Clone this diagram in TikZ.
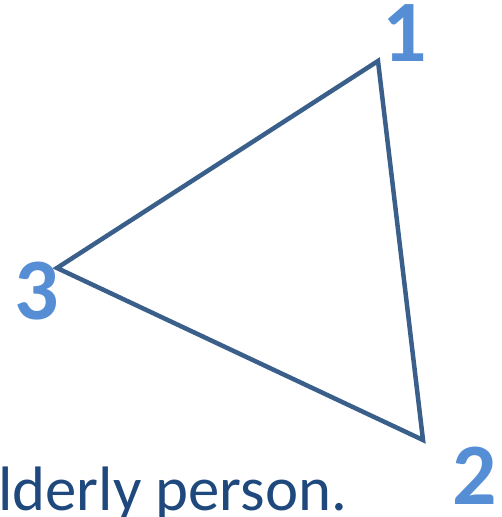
\documentclass[tikz,border=0pt]{standalone}
\usepackage{fontspec}
\setmainfont{Carlito}
\definecolor{edgeblue}{HTML}{3A5F8B}
\definecolor{labelblue}{HTML}{558ED5}
\definecolor{textblue}{HTML}{1F497D}
\begin{document}
\begin{tikzpicture}[x=1bp,y=-1bp,
  vlabel/.style={font=\fontsize{88}{88}\selectfont\bfseries, text=labelblue, inner sep=0pt},
  edge/.style={draw=edgeblue, line width=4.5bp, line join=miter}]
\useasboundingbox (0,0) rectangle (502,517);
\coordinate (v1) at (378,61);
\coordinate (v2) at (423,440);
\coordinate (v3) at (57,268);
\draw[edge] (v1) -- (v2) -- (v3) -- cycle;
\node[vlabel] (l1) at (405,33) {1};
\node[vlabel] (l2) at (475,476) {2};
\node[vlabel] (l3) at (37,291) {3};
\node[font=\fontsize{63}{63}\selectfont, text=textblue, inner sep=0pt, anchor=base west] (txt) at (-2,510) {lderly person.};
\end{tikzpicture}
\end{document}
